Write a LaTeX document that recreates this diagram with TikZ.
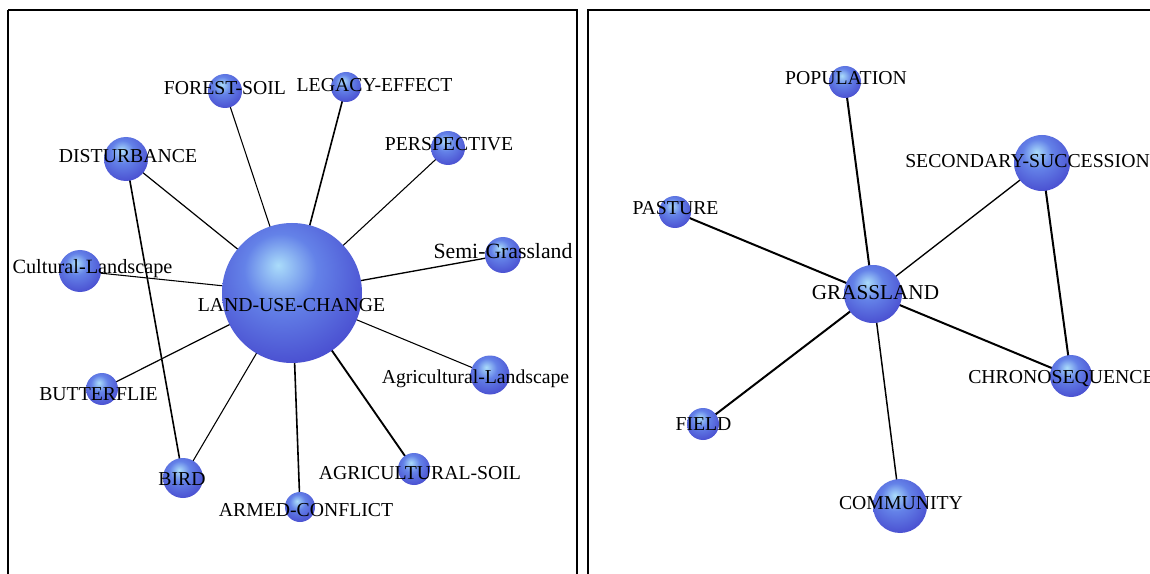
\documentclass[tikz,border=0pt]{standalone}
\usepackage{fontspec}
\setmainfont{Liberation Serif}
\definecolor{hl}{RGB}{170,220,250}
\definecolor{mid}{RGB}{100,130,232}
\definecolor{edge}{RGB}{70,72,205}
\definecolor{rim}{RGB}{55,48,185}
\pgfdeclareradialshading{sphere}{\pgfpoint{-5bp}{10bp}}{%
  color(0bp)=(hl); color(13bp)=(mid); color(34bp)=(edge); color(56bp)=(rim); color(70bp)=(rim)}
\pgfdeclarelayer{paper}
\pgfdeclarelayer{edges}
\pgfsetlayers{paper,edges,main}
\tikzset{
  ball/.style={circle, inner sep=0pt, minimum size=#1*1.5pt, shading=sphere},
  lab/.style={inner sep=0pt, anchor=base, text=black, font=\fontsize{14.8}{16}\selectfont},
  biglab/.style={lab, font=\fontsize{15.9}{17}\selectfont},
  link/.style={draw=black, line width=#1},
  frame/.style={draw=black, line width=1.5pt}
}
\begin{document}
\begin{tikzpicture}[x=0.75pt, y=-0.75pt]
\useasboundingbox (0,0) rectangle (1150,574);
\clip (0,0) rectangle (1150,574);
\begin{pgfonlayer}{paper}
  \fill[white] (0,0) rectangle (1150,574);
\end{pgfonlayer}

% panel frames
\draw[frame] (8,10) -- (8,600);
\draw[frame] (8,10) -- (577,10) -- (577,600);
\draw[frame] (588,600) -- (588,10) -- (1160,10);

% ---- land-use-change network ----
\node[ball=70] (luc) at (292,293) {};
\node[ball=17] (fs) at (225,91) {};
\node[ball=15] (le) at (346,87) {};
\node[ball=17] (per) at (448,148) {};
\node[ball=22] (dist) at (126,159) {};
\node[ball=18] (semi) at (503,255) {};
\node[ball=21] (cult) at (80,271) {};
\node[ball=19.5] (agl) at (490,375) {};
\node[ball=16] (but) at (102,389) {};
\node[ball=20] (bird) at (183,478) {};
\node[ball=15] (arm) at (300,507) {};
\node[ball=16] (ags) at (414,469) {};

% ---- grassland network ----
\node[ball=29] (gr) at (873,294) {};
\node[ball=16] (pop) at (845,82) {};
\node[ball=16] (pas) at (675,212) {};
\node[ball=28] (sec) at (1042,163) {};
\node[ball=21] (chr) at (1071,376) {};
\node[ball=16] (fld) at (703,424) {};
\node[ball=27] (com) at (900,506) {};

\begin{pgfonlayer}{edges}
  \draw[link=0.8pt] (luc.center) -- (fs.center);
  \draw[link=1.2pt] (luc.center) -- (le.center);
  \draw[link=0.8pt] (luc.center) -- (per.center);
  \draw[link=1.0pt] (luc.center) -- (semi.center);
  \draw[link=0.8pt] (luc.center) -- (cult.center);
  \draw[link=0.9pt] (luc.center) -- (dist.center);
  \draw[link=1.2pt] (dist.center) -- (bird.center);
  \draw[link=0.9pt] (luc.center) -- (but.center);
  \draw[link=0.8pt] (luc.center) -- (bird.center);
  \draw[link=1.2pt] (luc.center) -- (arm.center);
  \draw[link=1.4pt] (luc.center) -- (ags.center);
  \draw[link=0.8pt] (luc.center) -- (agl.center);

  \draw[link=1.5pt] (gr.center) -- (pop.center);
  \draw[link=1.5pt] (gr.center) -- (pas.center);
  \draw[link=1.0pt] (gr.center) -- (sec.center);
  \draw[link=1.5pt] (gr.center) -- (chr.center);
  \draw[link=1.5pt] (gr.center) -- (fld.center);
  \draw[link=1.1pt] (gr.center) -- (com.center);
  \draw[link=1.5pt] (sec.center) -- (chr.center);
\end{pgfonlayer}

% labels
\node[lab] (luc-t) at (291.5,311.5) {LAND-USE-CHANGE};
\node[lab] (fs-t) at (225,94.5) {FOREST-SOIL};
\node[lab] (le-t) at (374.5,91.5) {LEGACY-EFFECT};
\node[lab] (per-t) at (449,150.5) {PERSPECTIVE};
\node[lab] (dist-t) at (128,162.5) {DISTURBANCE};
\node[biglab, font=\fontsize{16.3}{18}\selectfont] (semi-t) at (503,258.5) {Semi-Grassland};
\node[lab, font=\fontsize{15.2}{17}\selectfont] (cult-t) at (92.5,273.5) {Cultural-Landscape};
\node[lab] (agl-t) at (475.5,383.5) {Agricultural-Landscape};
\node[lab] (but-t) at (98.5,400.5) {BUTTERFLIE};
\node[lab] (bird-t) at (182,485.5) {BIRD};
\node[lab] (arm-t) at (306,516.5) {ARMED-CONFLICT};
\node[lab] (ags-t) at (420,479.5) {AGRICULTURAL-SOIL};

\node[biglab] (gr-t) at (875.5,300) {GRASSLAND};
\node[lab] (pop-t) at (846,84.5) {POPULATION};
\node[lab] (pas-t) at (675.5,214.5) {PASTURE};
\node[lab, anchor=base west] (sec-t) at (905,167.5) {SECONDARY-SUCCESSION};
\node[lab, anchor=base west] (chr-t) at (968,383.5) {CHRONOSEQUENCE};
\node[lab] (fld-t) at (703.5,430.5) {FIELD};
\node[lab] (com-t) at (901,509.5) {COMMUNITY};
\end{tikzpicture}
\end{document}
